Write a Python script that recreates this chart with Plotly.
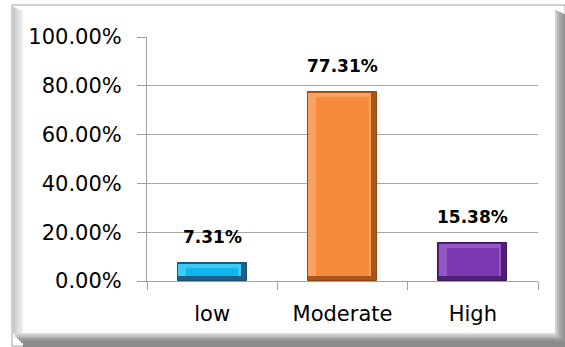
import plotly.graph_objects as go

categories = ["low", "Moderate", "High"]
values = [0.0731, 0.7731, 0.1538]
dark_colors = ["#1A6088", "#A9561A", "#4E1F74"]
light_colors = ["#3CCBF5", "#FBA262", "#9457C4"]
face_colors = ["#0FB6EC", "#F78B3B", "#7A39B0"]
edge_colors = ["#1E4F72", "#8F4715", "#3E1760"]
y_ticks = [0, 0.2, 0.4, 0.6, 0.8, 1.0]

W, H = 565, 347
ML, MR, MT, MB = 147, 27, 37, 66
PW, PH = W - ML - MR, H - MT - MB

def px(x):
    return (x - ML) / PW

def py(y):
    return (H - MB - y) / PH

BW = 0.53
inset = 0.02
fig = go.Figure()
fig.add_trace(go.Bar(
    x=categories, y=values, width=BW,
    marker=dict(color=dark_colors, line=dict(color=edge_colors, width=1)),
    hoverinfo="skip", showlegend=False,
))
fig.add_trace(go.Bar(
    x=categories, y=[v - inset - 0.003 for v in values], base=inset, width=BW - 0.05, offset=-BW / 2 + 0.004,
    marker=dict(color=light_colors, line=dict(width=0)),
    hoverinfo="skip", showlegend=False,
))
fig.add_trace(go.Bar(
    x=categories, y=[v - 2 * inset for v in values], base=inset, width=BW - 0.13,
    marker=dict(color=face_colors, line=dict(width=0)),
    hoverinfo="skip", showlegend=False,
))

for c, v in zip(categories, values):
    fig.add_annotation(
        x=c, y=v, yshift=26, text="<b>%.2f%%</b>" % (v * 100), showarrow=False,
        font=dict(family="DejaVu Sans", size=17, color="#000000"),
        xanchor="center", yanchor="middle",
    )

shapes = []
shapes.append(dict(type="rect", xref="paper", yref="paper", layer="below",
                   x0=px(12), x1=px(565), y0=py(346), y1=py(5),
                   line=dict(color="#A0A0A0", width=1), fillcolor="#FFFFFF"))
for i, col in enumerate(["#C8C8C8", "#D4D4D4", "#DEDEDE", "#E6E6E6", "#EDEDED"]):
    shapes.append(dict(type="rect", xref="paper", yref="paper", layer="below",
                       x0=px(13 + 2 * i), x1=px(15 + 2 * i), y0=py(333), y1=py(7 + i),
                       line=dict(width=0), fillcolor=col))
for i, col in enumerate(["#D0D0D0", "#B8B8B8", "#A8A8A8", "#9C9C9C", "#949494"]):
    shapes.append(dict(type="rect", xref="paper", yref="paper", layer="below",
                       x0=px(555 + 2 * i), x1=px(557 + 2 * i), y0=py(346), y1=py(10 + i),
                       line=dict(width=0), fillcolor=col))
for i, col in enumerate(["#DADADA", "#C4C4C4", "#A8A8A8", "#959595", "#8C8C8C", "#8A8A8A", "#8C8C8C"]):
    shapes.append(dict(type="rect", xref="paper", yref="paper", layer="below",
                       x0=px(13 + 2 * i if i < 5 else 23), x1=px(565 - (0 if i > 2 else 10 - 3 * i)),
                       y0=py(335 + 2 * i), y1=py(333 + 2 * i),
                       line=dict(width=0), fillcolor=col))

fig.update_layout(
    width=W, height=H,
    margin=dict(l=ML, r=MR, t=MT, b=MB),
    paper_bgcolor="#FFFFFF", plot_bgcolor="rgba(0,0,0,0)",
    barmode="overlay", bargap=0,
    shapes=shapes,
    font=dict(family="DejaVu Sans", size=21, color="#000000"),
    xaxis=dict(
        type="category", showline=True, linecolor="#A0A0A0", linewidth=1,
        ticks="outside", tickson="boundaries", ticklen=8, tickcolor="#A0A0A0",
        showgrid=False, tickfont=dict(size=21), ticklabelstandoff=14,
    ),
    yaxis=dict(
        range=[0, 1], tickvals=y_ticks, tickformat=".2%",
        showgrid=True, gridcolor="#A6A6A6", gridwidth=1,
        showline=True, linecolor="#A0A0A0", linewidth=1,
        ticks="outside", ticklen=9, tickcolor="#A0A0A0",
        zeroline=False, tickfont=dict(size=21), ticklabelstandoff=11,
    ),
)

fig.write_html("out.html")
